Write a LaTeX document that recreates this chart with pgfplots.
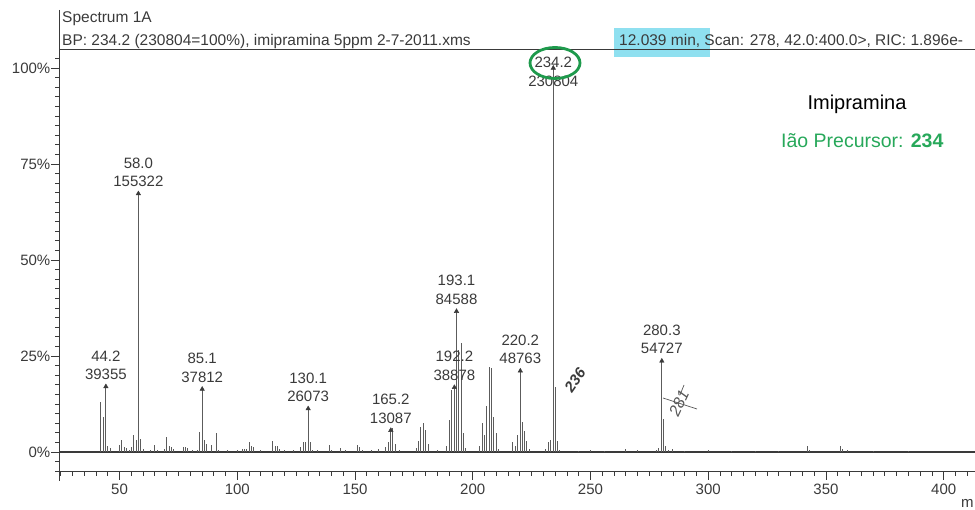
\documentclass[border=0pt]{standalone}
\usepackage{pgfplots}
\pgfplotsset{compat=1.18}
\usepackage{pgfplotstable}
\usepackage{fontspec}
\setmainfont{Liberation Sans}
\definecolor{ink}{HTML}{3A3A3A}
\definecolor{peak}{HTML}{5C5C5C}
\definecolor{ring}{HTML}{1E9A4C}
\definecolor{gtext}{HTML}{27A85A}
\definecolor{hl}{HTML}{8FE0F0}

\pgfplotstableread{
mz int
42 13.1
43 9.0
44.2 17.05
45 1.5
46 1.0
50 1.8
51 3.1
52 1.3
53 1.0
54 0.6
55 1.2
56 4.4
57 3.1
58.0 67.3
59 3.5
60 0.8
63 0.6
65 1.8
66 0.5
69 0.9
70 3.8
71 1.6
72 1.2
73 0.8
77 1.2
78 1.2
79 1.0
81 0.5
83 0.6
84 5.3
85.1 16.38
86 3.1
87 2.0
89 1.8
91 4.9
92 0.6
96 0.4
100 0.5
102 0.8
103 0.9
104 0.8
105 2.7
106 1.6
107 1.2
110 0.5
115 2.9
116 1.6
117 1.5
118 0.9
120 0.6
124 0.4
127 1.3
128 2.6
129 2.6
130.1 11.3
131 2.6
132 0.5
134 0.4
139 1.8
140 0.6
144 1.0
146 0.6
151 1.8
152 1.4
153 0.6
157 0.5
160 0.8
163 1.4
164 2.6
165.2 5.67
166 6.3
167 2.0
169 0.4
176 1.0
177 3.0
178 6.6
179 7.5
180 5.8
181 2.0
185 0.5
189 1.5
190 8.3
191 16.1
192.2 16.84
193.1 36.65
194 26.6
195 28.3
196 4.9
197 1.0
203 1.5
204 7.5
205 4.5
206 12.0
207 22.2
208 21.8
209 9.0
210 5.0
211 0.8
217 2.7
218 1.6
219 4.4
220.2 21.13
221 7.9
222 5.5
223 3.0
224 0.8
231 0.8
232 2.7
233 3.1
234.2 100
235 17.0
236 3.0
237 0.6
245 0.3
250 0.4
256 0.3
265 0.8
270 0.4
278 0.6
279 1.0
280.3 23.71
281 8.7
282 1.5
283 0.6
285 0.8
290 0.3
300 0.4
310 0.3
320 0.3
330 0.3
342 1.5
343 0.5
356 1.5
357 0.7
359 0.5
370 0.3
385 0.3
}\peaks

\pgfplotstableread{
mz int lab cnt
44.2 17.05 44.2 39355
58.0 67.30 58.0 155322
85.1 16.38 85.1 37812
130.1 11.30 130.1 26073
165.2 5.67 165.2 13087
192.2 16.84 192.2 38878
193.1 36.65 193.1 84588
220.2 21.13 220.2 48763
280.3 23.71 280.3 54727
}\labelled

\pgfplotstableread{
mz int lab cnt
234.2 100 234.2 230804
}\basepeak

\newcommand\lblfont{\fontsize{15}{18.5}\selectfont}
\newcommand\hdrfont{\fontsize{15.5}{18}\selectfont}

\begin{document}
\begin{tikzpicture}
\begin{axis}[
  scale only axis, width=915.5pt, height=422pt,
  xmin=24.5, xmax=413.3, ymin=-5.2, ymax=104.7,
  axis x line*=bottom, axis y line*=left,
  axis line style={ink, line width=1pt},
  xtick={50,100,...,400}, minor xtick={25,30,...,410},
  ytick={0,25,50,75,100}, minor ytick={-5,-2.5,...,102.5},
  tick align=outside, major tick length=8pt, minor tick length=4pt,
  every tick/.style={ink, line width=0.8pt},
  yticklabel={\pgfmathprintnumber{\tick}\%},
  ticklabel style={font=\lblfont, text=ink},
  yticklabel style={inner sep=1pt},
  /pgf/number format/assume math mode=true,
  clip=false,
]
\draw[ink, line width=1.4pt] (axis cs:24.5,0) -- (axis cs:413.3,0);
\addplot[ycomb, peak, line width=0.9pt, mark=none] table[x=mz, y=int] {\peaks};
% arrowheads + intensity counts
\addplot[only marks, mark=triangle*, mark size=2.6pt, mark options={fill=ink, draw=ink},
  point meta=explicit symbolic, nodes near coords,
  every node near coord/.append style={anchor=base, inner sep=0pt, yshift=7pt, font=\lblfont, text=ink}]
  table[x=mz, y=int, meta=cnt] {\labelled};
% m/z labels
\addplot[only marks, mark=none,
  point meta=explicit symbolic, nodes near coords,
  every node near coord/.append style={anchor=base, inner sep=0pt, yshift=25.5pt, font=\lblfont, text=ink}]
  table[x=mz, y=int, meta=lab] {\labelled};
% base peak
\addplot[only marks, mark=triangle*, mark size=2.6pt, mark options={fill=ink, draw=ink},
  point meta=explicit symbolic, nodes near coords,
  every node near coord/.append style={anchor=base, inner sep=0pt, yshift=-18pt, font=\lblfont, text=ink}]
  table[x=mz, y=int, meta=cnt] {\basepeak};
\addplot[only marks, mark=none,
  point meta=explicit symbolic, nodes near coords,
  every node near coord/.append style={anchor=base, inner sep=0pt, yshift=0.5pt, font=\lblfont, text=ink}]
  table[x=mz, y=int, meta=lab] {\basepeak};
\end{axis}
\begin{scope}[shift={(-59.5pt,472pt)}, x=1pt, y=-1pt]
  \fill[hl] (614,28) rectangle (710,57);
  \draw[ink, line width=1pt] (59.5,10) -- (59.5,50) -- (975,50);
  \draw[ink, line width=1pt] (59.5,472) -- (59.5,481);
  \node[anchor=base west, inner sep=0pt, font=\hdrfont, text=ink] at (62,23) {Spectrum 1A};
  \node[anchor=base west, inner sep=0pt, font=\hdrfont, text=ink] at (62,46) {BP: 234.2 (230804=100\%), imipramina 5ppm 2-7-2011.xms};
  \node[anchor=base west, inner sep=0pt, font=\hdrfont, text=ink] at (619,46) {12.039 min, Scan: 278, 42.0:400.0>, RIC: 1.896e-};
  \draw[ring, line width=2.8pt] (555,63) ellipse [x radius=25, y radius=15.5];
  \node[anchor=base, inner sep=0pt, font=\fontsize{20}{24}\selectfont, text=black] at (857,110) {Imipramina};
  \node[anchor=base west, inner sep=0pt, font=\fontsize{19.5}{24}\selectfont, text=gtext] at (781,148) {Ião Precursor: \textbf{234}};
  \node[rotate=55, inner sep=0pt, font=\fontsize{15}{18}\selectfont\itshape\bfseries, text=ink] at (575,380) {236};
  \node[rotate=65, inner sep=0pt, font=\fontsize{16}{18}\selectfont\itshape, text=ink!85] at (679,403) {281};
  \draw[ink!85, line width=0.7pt] (663,398) -- (697,409);
  \draw[ink!85, line width=0.7pt] (684,385) -- (680,395);
  \node[anchor=base west, inner sep=0pt, font=\lblfont, text=ink] at (961,508) {m};
  \pgfresetboundingbox
  \path (0,0) rectangle (975,510);
\end{scope}
\end{tikzpicture}
\end{document}
